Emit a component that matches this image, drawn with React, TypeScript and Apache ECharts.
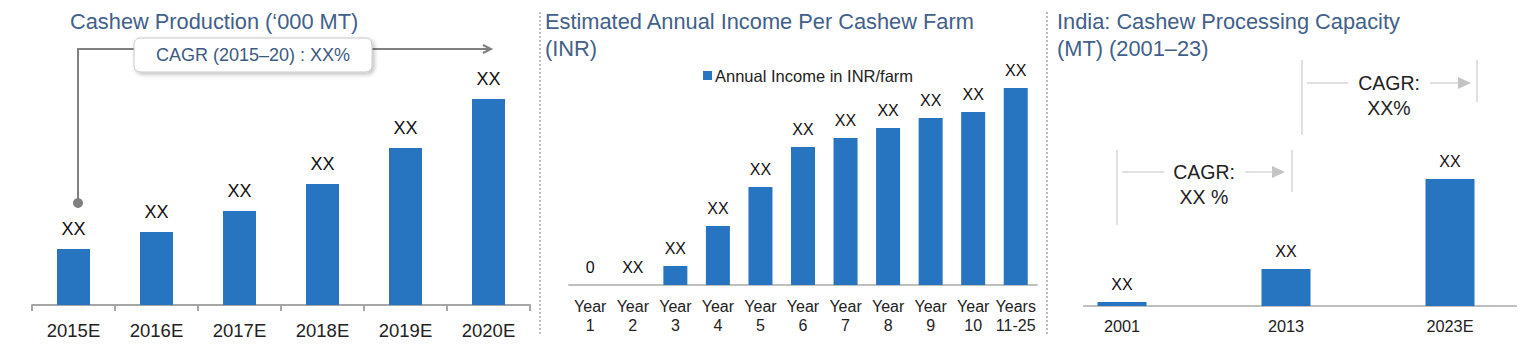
import React, { useEffect, useRef } from "react";
import * as echarts from "echarts";

const FONT = "'Liberation Sans', Arial, sans-serif";
const BAR = "#2775C1";
const TITLE = "#41608A";

const prodYears = ["2015E", "2016E", "2017E", "2018E", "2019E", "2020E"];
const prodValues = [56, 73, 94, 121, 157, 206];
const prodLabels = ["XX", "XX", "XX", "XX", "XX", "XX"];

const incomeYears = ["Year\n1", "Year\n2", "Year\n3", "Year\n4", "Year\n5", "Year\n6", "Year\n7", "Year\n8", "Year\n9", "Year\n10", "Years\n11-25"];
const incomeValues = [0, 0, 19, 59, 98, 138, 147, 157, 167, 173, 197];
const incomeLabels = ["0", "XX", "XX", "XX", "XX", "XX", "XX", "XX", "XX", "XX", "XX"];

const capYears = ["2001", "2013", "2023E"];
const capValues = [4, 37, 127];
const capLabels = ["XX", "XX", "XX"];

export default function App() {
  const ref = useRef<HTMLDivElement>(null);
  useEffect(() => {
    if (!ref.current) return;
    const chart = echarts.init(ref.current, null, { renderer: "svg" });
    const grey = "#d6d6d6";
    const cagrText = (x: number, y: number, t: string) => ({
      type: "text",
      x,
      y,
      style: { text: t, font: `19.5px ${FONT}`, fill: "#222", align: "center", verticalAlign: "middle" },
    });
    const vline = (x: number, y1: number, y2: number) => ({
      type: "line",
      shape: { x1: x, y1, x2: x, y2 },
      style: { stroke: grey, lineWidth: 1.5 },
    });
    const hline = (x1: number, x2: number, y: number) => ({
      type: "line",
      shape: { x1, y1: y, x2, y2: y },
      style: { stroke: grey, lineWidth: 1.5 },
    });
    const titleFont = `21.8px ${FONT}`;
    chart.setOption({
      animation: false,
      textStyle: { fontFamily: FONT },
      legend: {
        data: ["Annual Income in INR/farm"],
        left: 703,
        top: 67,
        padding: 0,
        itemWidth: 9,
        itemHeight: 9,
        icon: "rect",
        textStyle: { fontSize: 16.5, color: "#222", fontFamily: FONT, padding: [0, 0, 0, -2] },
      },
      grid: [
        { left: 32, width: 498, top: 55, bottom: 47 },
        { left: 569, width: 468, top: 85, bottom: 67 },
        { left: 1040, width: 520, top: 156, bottom: 46 },
      ],
      xAxis: [
        {
          type: "category",
          gridIndex: 0,
          data: prodYears,
          axisLine: { lineStyle: { color: "#a6a6a6", width: 2 } },
          axisTick: { show: true, length: 6, lineStyle: { color: "#a6a6a6", width: 2 } },
          axisLabel: { fontSize: 18.5, color: "#222", margin: 16, fontFamily: FONT },
        },
        {
          type: "category",
          gridIndex: 1,
          data: incomeYears,
          axisLine: { lineStyle: { color: "#bfbfbf", width: 2 } },
          axisTick: { show: false },
          axisLabel: { fontSize: 16, color: "#222", margin: 12, lineHeight: 19, fontFamily: FONT, interval: 0 },
        },
        {
          type: "category",
          gridIndex: 2,
          data: capYears,
          axisLine: { show: false },
          axisTick: { show: false },
          axisLabel: { fontSize: 16.3, color: "#222", margin: 12, fontFamily: FONT },
        },
      ],
      yAxis: [
        { type: "value", gridIndex: 0, min: 0, max: 250, show: false },
        { type: "value", gridIndex: 1, min: 0, max: 200, show: false },
        { type: "value", gridIndex: 2, min: 0, max: 150, show: false },
      ],
      series: [
        {
          name: "Production",
          type: "bar",
          xAxisIndex: 0,
          yAxisIndex: 0,
          data: prodValues,
          barWidth: 33,
          itemStyle: { color: BAR },
          label: {
            show: true,
            position: "top",
            distance: 11,
            fontSize: 18,
            color: "#111",
            fontFamily: FONT,
            formatter: (p: any) => prodLabels[p.dataIndex],
          },
        },
        {
          name: "Annual Income in INR/farm",
          type: "bar",
          xAxisIndex: 1,
          yAxisIndex: 1,
          data: incomeValues,
          barWidth: 24,
          itemStyle: { color: BAR },
          label: {
            show: true,
            position: "top",
            distance: 10,
            fontSize: 16,
            color: "#111",
            fontFamily: FONT,
            formatter: (p: any) => incomeLabels[p.dataIndex],
          },
        },
        {
          name: "Capacity",
          type: "bar",
          xAxisIndex: 2,
          yAxisIndex: 2,
          data: capValues,
          barWidth: 49,
          itemStyle: { color: BAR },
          label: {
            show: true,
            position: "top",
            distance: 10,
            fontSize: 16,
            color: "#111",
            fontFamily: FONT,
            formatter: (p: any) => capLabels[p.dataIndex],
          },
        },
      ],
      graphic: [
        // separators
        { type: "line", shape: { x1: 540, y1: 12, x2: 540, y2: 336 }, style: { stroke: "#a8a8a8", lineWidth: 1.5, lineDash: [2, 2] } },
        { type: "line", shape: { x1: 1047, y1: 12, x2: 1047, y2: 336 }, style: { stroke: "#a8a8a8", lineWidth: 1.5, lineDash: [2, 2] } },
        // titles
        { type: "text", x: 70, y: 21, style: { text: "Cashew Production (‘000 MT)", font: titleFont, fill: TITLE, verticalAlign: "middle" } },
        { type: "text", x: 545, y: 21, style: { text: "Estimated Annual Income Per Cashew Farm", font: titleFont, fill: TITLE, verticalAlign: "middle" } },
        { type: "text", x: 545, y: 48, style: { text: "(INR)", font: titleFont, fill: TITLE, verticalAlign: "middle" } },
        { type: "text", x: 1057, y: 21, style: { text: "India: Cashew Processing Capacity", font: titleFont, fill: TITLE, verticalAlign: "middle" } },
        { type: "text", x: 1057, y: 48, style: { text: "(MT) (2001–23)", font: titleFont, fill: TITLE, verticalAlign: "middle" } },
        // panel 1 CAGR
        { type: "polyline", shape: { points: [[78, 203], [78, 49], [491, 49]] }, style: { stroke: "#808080", lineWidth: 2, fill: null } },
        { type: "polyline", shape: { points: [[483, 45], [491, 49], [483, 53]] }, style: { stroke: "#808080", lineWidth: 2, fill: null } },
        { type: "circle", shape: { cx: 78, cy: 203, r: 5 }, style: { fill: "#808080" } },
        {
          type: "rect",
          shape: { x: 134, y: 38, width: 238, height: 34, r: 6 },
          style: { fill: "#fff", stroke: "#c8c8c8", lineWidth: 1, shadowBlur: 4, shadowOffsetX: 2, shadowOffsetY: 2, shadowColor: "rgba(0,0,0,0.25)" },
        },
        { type: "text", x: 253, y: 55, style: { text: "CAGR (2015–20) : XX%", font: `18px ${FONT}`, fill: "#3D5A80", align: "center", verticalAlign: "middle" } },
        // panel 3 axis line
        { type: "line", shape: { x1: 1083, y1: 306, x2: 1517, y2: 306 }, style: { stroke: "#c0c0c0", lineWidth: 2 } },
        // panel 3 CAGR left
        vline(1117, 150, 225),
        vline(1292, 150, 192),
        hline(1122, 1164, 172),
        hline(1245, 1273, 172),
        { type: "polygon", shape: { points: [[1272, 166], [1285, 172], [1272, 178]] }, style: { fill: "#c4c4c4" } },
        cagrText(1204, 172, "CAGR:"),
        cagrText(1204, 197, "XX %"),
        // panel 3 CAGR right
        vline(1302, 60, 135),
        vline(1477, 60, 102),
        hline(1307, 1348, 83),
        hline(1430, 1459, 83),
        { type: "polygon", shape: { points: [[1458, 77], [1471, 83], [1458, 89]] }, style: { fill: "#c4c4c4" } },
        cagrText(1389, 83, "CAGR:"),
        cagrText(1389, 108, "XX%"),
      ],
    });
    return () => chart.dispose();
  }, []);
  return <div ref={ref} style={{ position: "fixed", left: 0, top: 0, width: 1532, height: 352, background: "#fff" }} />;
}
